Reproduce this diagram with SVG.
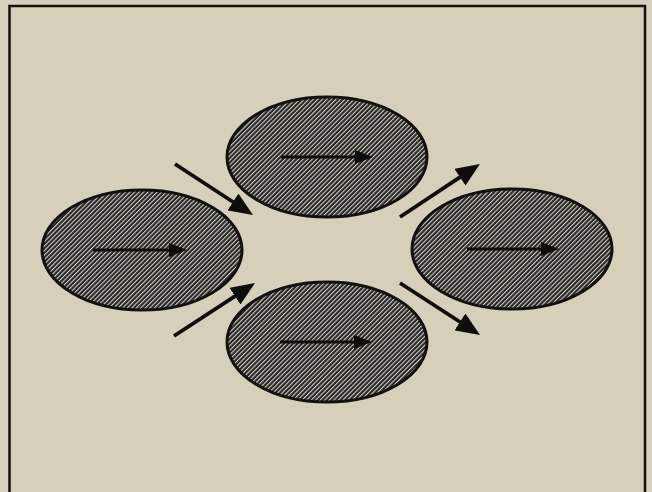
<svg xmlns="http://www.w3.org/2000/svg" width="652" height="492" viewBox="0 0 652 492">
  <defs>
    <pattern id="hatch" patternUnits="userSpaceOnUse" width="3.2" height="3.2" patternTransform="rotate(-45)">
      <rect width="3.2" height="3.2" fill="#262626"/>
      <rect y="0" width="3.2" height="1.05" fill="#d9d5c6"/>
    </pattern>
    <marker id="headBig" markerUnits="userSpaceOnUse" markerWidth="24" markerHeight="20" viewBox="0 0 24 20" refX="2" refY="10" orient="auto">
      <path d="M0,0 L24,10 L0,20 z" fill="#0d0d0d"/>
    </marker>
    <marker id="headSmall" markerUnits="userSpaceOnUse" markerWidth="18" markerHeight="14" viewBox="0 0 18 14" refX="2" refY="7" orient="auto">
      <path d="M0,0 L18,7 L0,14 z" fill="#0d0d0d"/>
    </marker>
  </defs>
  <style>
    .node ellipse { fill: url(#hatch); stroke: #111; stroke-width: 3; }
    .inner { stroke: #0d0d0d; stroke-width: 3; fill: none; marker-end: url(#headSmall); }
    .conn { stroke: #0d0d0d; stroke-width: 3.8; fill: none; marker-end: url(#headBig); }
  </style>
  <rect x="0" y="0" width="652" height="492" fill="#d6d0bb"/>
  <rect x="9.5" y="6" width="635.5" height="500" fill="#d6d0bb" stroke="#111" stroke-width="2.5"/>

  <g id="node-left" class="node">
    <ellipse cx="142" cy="250" rx="100" ry="60"/>
    <line class="inner" x1="93" y1="250" x2="171" y2="250"/>
  </g>
  <g id="node-top" class="node">
    <ellipse cx="327" cy="157" rx="100" ry="60"/>
    <line class="inner" x1="281" y1="157" x2="357" y2="157"/>
  </g>
  <g id="node-bottom" class="node">
    <ellipse cx="327" cy="342" rx="100" ry="60"/>
    <line class="inner" x1="280" y1="342" x2="356" y2="342"/>
  </g>
  <g id="node-right" class="node">
    <ellipse cx="512" cy="249" rx="100" ry="60"/>
    <line class="inner" x1="467" y1="249" x2="543" y2="249"/>
  </g>

  <g id="connectors">
    <line class="conn" x1="175" y1="164" x2="234.6" y2="203"/>
    <line class="conn" x1="174" y1="336" x2="236.6" y2="295.1"/>
    <line class="conn" x1="400" y1="217" x2="461.6" y2="176.1"/>
    <line class="conn" x1="400" y1="283" x2="461.6" y2="323"/>
  </g>
</svg>
